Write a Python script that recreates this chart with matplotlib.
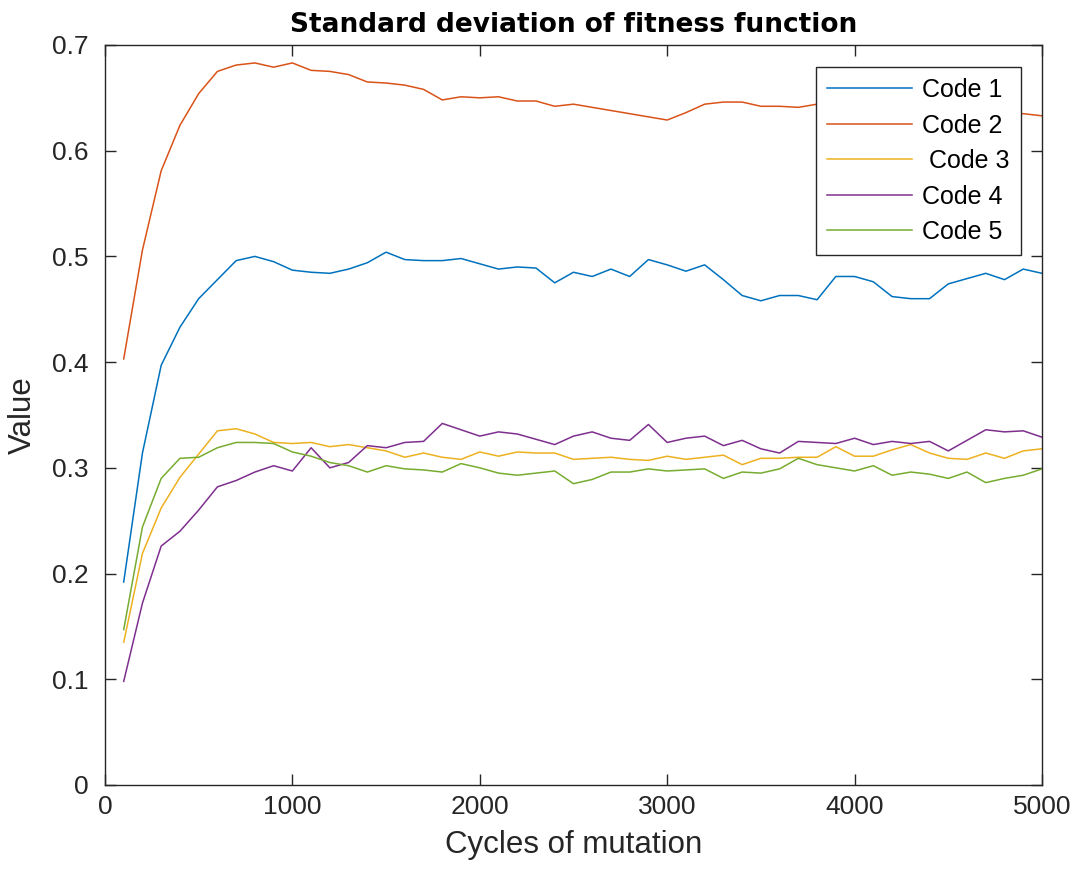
import matplotlib
matplotlib.use("Agg")
import matplotlib.pyplot as plt
import numpy as np

plt.rcParams['font.family'] = ['Liberation Sans', 'DejaVu Sans']

# Mutation cycles sampled every 100 steps
cycles = list(range(100, 5001, 100))

code1 = [0.192, 0.314, 0.397, 0.433, 0.460, 0.478, 0.496, 0.500, 0.495, 0.487,
         0.485, 0.484, 0.488, 0.494, 0.504, 0.497, 0.496, 0.496, 0.498, 0.493,
         0.488, 0.490, 0.489, 0.475, 0.485, 0.481, 0.488, 0.481, 0.497, 0.492,
         0.486, 0.492, 0.478, 0.463, 0.458, 0.463, 0.463, 0.459, 0.481, 0.481,
         0.476, 0.462, 0.460, 0.460, 0.474, 0.479, 0.484, 0.478, 0.488, 0.484]

code2 = [0.403, 0.506, 0.581, 0.624, 0.654, 0.675, 0.681, 0.683, 0.679, 0.683,
         0.676, 0.675, 0.672, 0.665, 0.664, 0.662, 0.658, 0.648, 0.651, 0.650,
         0.651, 0.647, 0.647, 0.642, 0.644, 0.641, 0.638, 0.635, 0.632, 0.629,
         0.636, 0.644, 0.646, 0.646, 0.642, 0.642, 0.641, 0.644, 0.645, 0.643,
         0.641, 0.642, 0.639, 0.640, 0.638, 0.639, 0.637, 0.636, 0.635, 0.633]

code3 = [0.135, 0.219, 0.262, 0.291, 0.313, 0.335, 0.337, 0.332, 0.324, 0.323,
         0.324, 0.320, 0.322, 0.319, 0.316, 0.310, 0.314, 0.310, 0.308, 0.315,
         0.311, 0.315, 0.314, 0.314, 0.308, 0.309, 0.310, 0.308, 0.307, 0.311,
         0.308, 0.310, 0.312, 0.303, 0.309, 0.309, 0.310, 0.310, 0.320, 0.311,
         0.311, 0.317, 0.322, 0.314, 0.309, 0.308, 0.314, 0.309, 0.316, 0.318]

code4 = [0.098, 0.172, 0.226, 0.240, 0.260, 0.282, 0.288, 0.296, 0.302, 0.297,
         0.319, 0.300, 0.305, 0.321, 0.319, 0.324, 0.325, 0.342, 0.336, 0.330,
         0.334, 0.332, 0.327, 0.322, 0.330, 0.334, 0.328, 0.326, 0.341, 0.324,
         0.328, 0.330, 0.321, 0.326, 0.318, 0.314, 0.325, 0.324, 0.323, 0.328,
         0.322, 0.325, 0.323, 0.325, 0.316, 0.326, 0.336, 0.334, 0.335, 0.329]

code5 = [0.147, 0.244, 0.290, 0.309, 0.310, 0.319, 0.324, 0.324, 0.323, 0.315,
         0.311, 0.305, 0.302, 0.296, 0.302, 0.299, 0.298, 0.296, 0.304, 0.300,
         0.295, 0.293, 0.295, 0.297, 0.285, 0.289, 0.296, 0.296, 0.299, 0.297,
         0.298, 0.299, 0.290, 0.296, 0.295, 0.299, 0.309, 0.303, 0.300, 0.297,
         0.302, 0.293, 0.296, 0.294, 0.290, 0.296, 0.286, 0.290, 0.293, 0.299]

labels = ['Code 1', 'Code 2', ' Code 3', 'Code 4', 'Code 5']
colors = ['#0072BD', '#D95319', '#EDB120', '#7E2F8E', '#77AC30']

fig = plt.figure(figsize=(10.81, 8.75), dpi=100)
ax = fig.add_axes([0.0971, 0.1029, 0.8668, 0.8457])

for series, lab, col in zip([code1, code2, code3, code4, code5], labels, colors):
    ax.plot(cycles, series, color=col, linewidth=1.1, label=lab)

ax.set_xlim(0, 5000)
ax.set_ylim(0, 0.7)
ax.set_xticks([0, 1000, 2000, 3000, 4000, 5000])
ax.set_yticks([0, 0.1, 0.2, 0.3, 0.4, 0.5, 0.6, 0.7])
ax.set_yticklabels(['0', '0.1', '0.2', '0.3', '0.4', '0.5', '0.6', '0.7'])

edge = '#262626'
for sp in ax.spines.values():
    sp.set_color(edge)
    sp.set_linewidth(1.0)
ax.tick_params(direction='in', length=8, width=1.0, color=edge,
               top=True, right=True, labelsize=19, labelcolor='#262626')
ax.tick_params(axis='x', pad=7)
ax.tick_params(axis='y', pad=12)

ax.set_title('Standard deviation of fitness function', fontsize=19,
             fontweight='bold', family=['DejaVu Sans'], pad=9)
ax.set_xlabel('Cycles of mutation', fontsize=22.5, color='#262626', labelpad=8)
ax.set_ylabel('Value', fontsize=22.5, color='#262626', labelpad=10)

leg = ax.legend(loc='upper right', bbox_to_anchor=(0.9776, 0.9703),
                fontsize=18, frameon=True, fancybox=False, framealpha=1,
                edgecolor=edge, handlelength=3.4, handletextpad=0.4,
                labelspacing=0.46, borderpad=0.45, borderaxespad=0)
leg.get_frame().set_linewidth(1.0)

fig.savefig('out.png', dpi=100, facecolor='white')
